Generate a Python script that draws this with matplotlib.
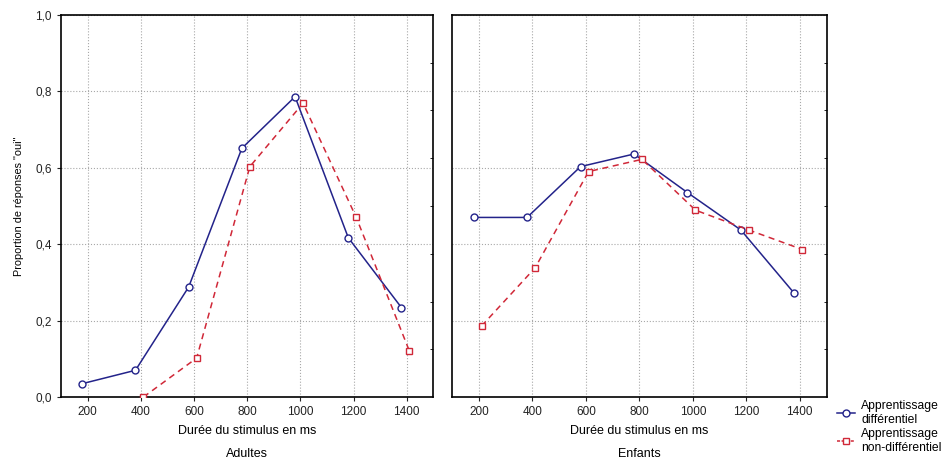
import numpy as np
import matplotlib
matplotlib.use("Agg")
import matplotlib.pyplot as plt
from matplotlib.lines import Line2D

plt.rcParams["font.family"] = ["Liberation Sans", "DejaVu Sans"]

# Data
durations = [200, 400, 600, 800, 1000, 1200, 1400]
adultes_diff = [0.035, 0.07, 0.288, 0.651, 0.786, 0.417, 0.234]
adultes_nondiff = [0.0, 0.0, 0.102, 0.603, 0.769, 0.47, 0.12]
enfants_diff = [0.47, 0.47, 0.603, 0.636, 0.535, 0.437, 0.271]
enfants_nondiff = [0.186, 0.338, 0.59, 0.622, 0.489, 0.437, 0.386]
y_ticks = [0.0, 0.2, 0.4, 0.6, 0.8, 1.0]
y_tick_labels = ["0,0", "0,2", "0,4", "0,6", "0,8", "1,0"]
panel_titles = ["Adultes", "Enfants"]
series_labels = ["Apprentissage\ndifférentiel", "Apprentissage\nnon-différentiel"]

blue = "#23238a"
red = "#d02838"

fig = plt.figure(figsize=(9.5, 4.66), dpi=100)
ax1 = fig.add_axes([0.0642, 0.148, 0.392, 0.820])
ax2 = fig.add_axes([0.476, 0.148, 0.394, 0.820])

x = np.array(durations)
panels = [(ax1, adultes_diff, adultes_nondiff), (ax2, enfants_diff, enfants_nondiff)]

for i, (ax, d, nd) in enumerate(panels):
    # adults: no red point at 200 ms
    start = 1 if i == 0 else 0
    ax.plot(x - 20, d, color=blue, lw=1.1, marker="o", ms=5,
            mfc="white", mec=blue, mew=1.0, zorder=3)
    ax.plot(x[start:] + 10, nd[start:], color=red, lw=1.1, ls=(0, (4, 3)), marker="s",
            ms=5, mfc="white", mec=red, mew=1.0, zorder=3)

    ax.set_xlim(100, 1500)
    ax.set_ylim(0, 1.0)
    ax.set_xticks(durations)
    ax.set_yticks(y_ticks)
    ax.grid(True, color="#a8a8a8", ls=":", lw=0.8)
    ax.tick_params(direction="out", length=3, labelsize=8.5, colors="#222222")
    for s in ax.spines.values():
        s.set_linewidth(1.2)
    ax.set_xlabel("Durée du stimulus en ms\n\n" + panel_titles[i], fontsize=9,
                  linespacing=0.95, labelpad=5)
    # small ticks on the right spine
    ax.set_yticks(np.arange(0.125, 1.0, 0.125), minor=True)
    ax.tick_params(axis="y", which="minor", left=False, right=True,
                   direction="in", length=2)

ax1.set_yticklabels(y_tick_labels)
ax2.set_yticklabels([])
ax2.tick_params(axis="y", which="major", length=0)
ax1.set_ylabel('Proportion de réponses "oui"', fontsize=7.8, labelpad=8)

handles = [
    Line2D([], [], color=blue, lw=1.1, marker="o", ms=5, mfc="white", mec=blue),
    Line2D([], [], color=red, lw=1.1, ls=(0, (2, 1)), marker="s", ms=5, mfc="white", mec=red),
]
fig.legend(handles, series_labels, loc="upper left", bbox_to_anchor=(0.876, 0.152),
           frameon=False, fontsize=8.7, handlelength=1.5, handletextpad=0.5,
           labelspacing=0.2, borderaxespad=0)

fig.savefig("out.png", dpi=100)
